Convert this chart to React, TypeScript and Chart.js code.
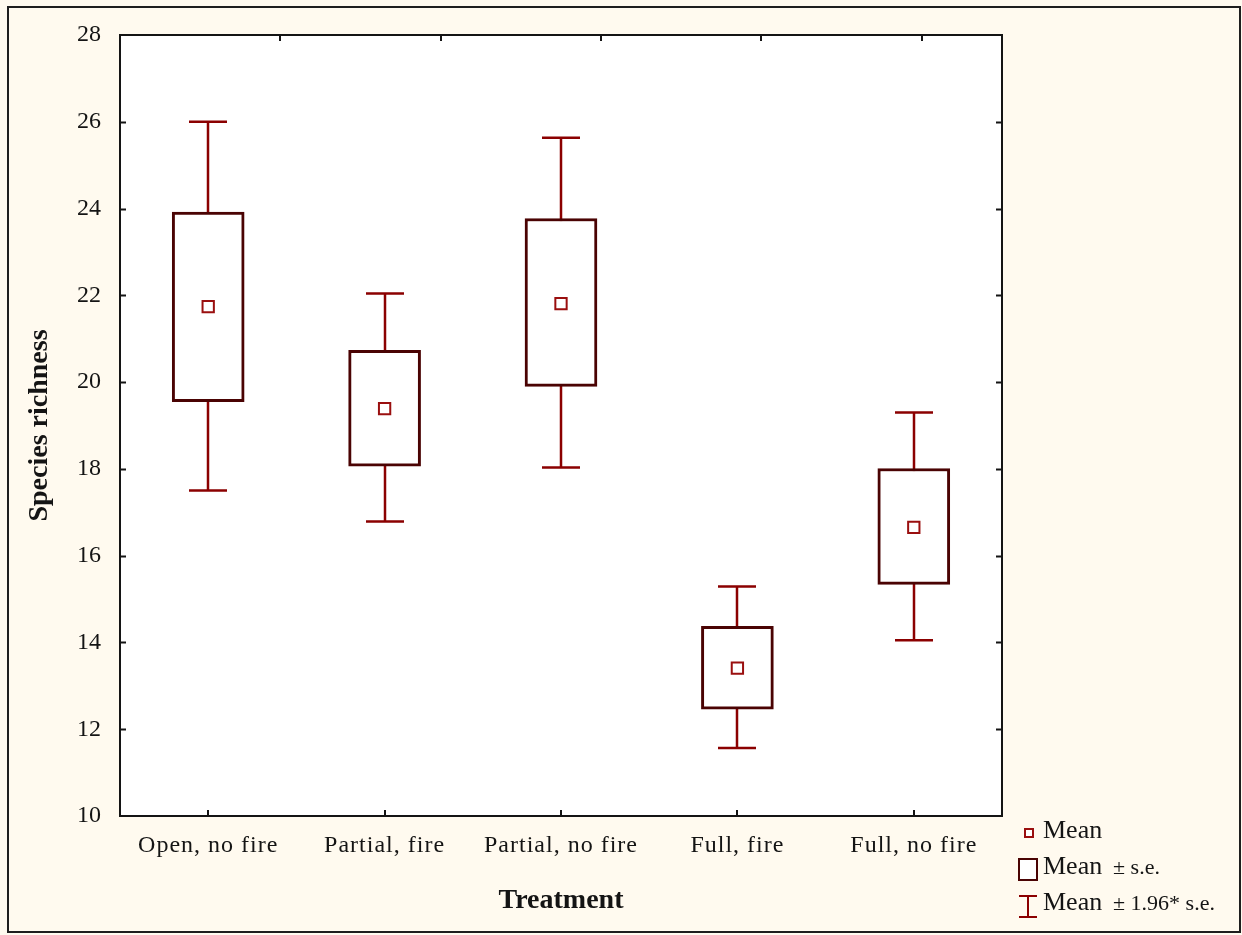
import { useEffect, useRef } from "react";
import { Chart, registerables } from "chart.js";

Chart.register(...registerables);

// Species richness per treatment: mean, ± s.e. box and ± 1.96·s.e. whiskers
const treatments = ["Open, no fire", "Partial, fire", "Partial, no fire", "Full, fire", "Full, no fire"];
const means = [21.74, 19.39, 21.81, 13.41, 16.65];
const seLow = [19.55, 18.06, 19.9, 12.46, 15.34];
const seHigh = [23.92, 20.73, 23.77, 14.37, 18.01];
const ciLow = [17.5, 16.79, 18.03, 11.57, 14.05];
const ciHigh = [26.0, 22.04, 25.63, 15.29, 19.3];

const yMin = 10;
const yMax = 28;
const yStep = 2;

const legendMain = ["Mean", "Mean", "Mean"];
const legendSuffix = ["", "± s.e.", "± 1.96* s.e."];

const CREAM = "#fffaef";
const INK = "#141414";
const WHISKER = "#8b0000";
const BOX = "#4a0303";
const MEAN = "#9a0f0f";
const SERIF = '"Liberation Serif", "Times New Roman", serif';

const decorations = {
  id: "decorations",
  beforeDraw(chart: any) {
    const { ctx, chartArea: a, width, height } = chart;
    ctx.save();
    ctx.fillStyle = CREAM;
    ctx.fillRect(0, 0, width, height);
    ctx.strokeStyle = "#1e1e1e";
    ctx.lineWidth = 2;
    ctx.strokeRect(8, 7, 1232, 925);
    ctx.fillStyle = "#ffffff";
    ctx.fillRect(a.left, a.top, a.right - a.left, a.bottom - a.top);
    ctx.restore();
  },
  beforeDatasetsDraw(chart: any) {
    const { ctx, scales } = chart;
    const x = scales.x;
    const y = scales.y;
    ctx.save();
    ctx.strokeStyle = WHISKER;
    ctx.lineWidth = 2.5;
    treatments.forEach((_, i) => {
      const cx = Math.round(x.getPixelForValue(i));
      const hi = y.getPixelForValue(ciHigh[i]);
      const lo = y.getPixelForValue(ciLow[i]);
      ctx.beginPath();
      ctx.moveTo(cx, hi);
      ctx.lineTo(cx, lo);
      ctx.moveTo(cx - 19, hi);
      ctx.lineTo(cx + 19, hi);
      ctx.moveTo(cx - 19, lo);
      ctx.lineTo(cx + 19, lo);
      ctx.stroke();
    });
    ctx.restore();
  },
  afterDraw(chart: any) {
    const { ctx, chartArea: a, scales } = chart;
    const x = scales.x;
    const y = scales.y;
    ctx.save();
    // plot frame
    ctx.strokeStyle = INK;
    ctx.lineWidth = 2;
    ctx.strokeRect(a.left, a.top, a.right - a.left, a.bottom - a.top);
    // inward tick marks
    ctx.beginPath();
    for (let v = yMin + yStep; v < yMax; v += yStep) {
      const py = Math.round(y.getPixelForValue(v)) + 0.5;
      ctx.moveTo(a.left, py);
      ctx.lineTo(a.left + 6, py);
      ctx.moveTo(a.right, py);
      ctx.lineTo(a.right - 6, py);
    }
    treatments.forEach((_, i) => {
      const px = Math.round(x.getPixelForValue(i));
      ctx.moveTo(px, a.bottom);
      ctx.lineTo(px, a.bottom - 6);
    });
    const w = a.right - a.left;
    for (let i = 1; i <= 5; i++) {
      const px = Math.round(a.left + (w * i) / 5.5);
      ctx.moveTo(px, a.top);
      ctx.lineTo(px, a.top + 6);
    }
    ctx.stroke();

    // legend
    const lx = 1019;
    const tx = 1043;
    const sx = 1113;
    // mean marker
    ctx.strokeStyle = MEAN;
    ctx.lineWidth = 2;
    ctx.fillStyle = "#fff";
    ctx.fillRect(1025, 829, 8, 8);
    ctx.strokeRect(1025, 829, 8, 8);
    // box
    ctx.strokeStyle = BOX;
    ctx.fillRect(lx, 859, 18, 21);
    ctx.strokeRect(lx, 859, 18, 21);
    // whisker
    ctx.strokeStyle = WHISKER;
    ctx.beginPath();
    ctx.moveTo(lx, 896);
    ctx.lineTo(lx + 18, 896);
    ctx.moveTo(lx + 9, 896);
    ctx.lineTo(lx + 9, 917);
    ctx.moveTo(lx, 917);
    ctx.lineTo(lx + 18, 917);
    ctx.stroke();

    const baselines = [838, 874, 910];
    ctx.fillStyle = INK;
    ctx.textBaseline = "alphabetic";
    ctx.textAlign = "left";
    legendMain.forEach((t, i) => {
      ctx.font = `26px ${SERIF}`;
      ctx.fillText(t, tx, baselines[i]);
      if (legendSuffix[i]) {
        ctx.font = `22px ${SERIF}`;
        ctx.fillText(legendSuffix[i], sx, baselines[i]);
      }
    });
    ctx.restore();
  },
};

export default function App() {
  const ref = useRef<HTMLCanvasElement | null>(null);

  useEffect(() => {
    const canvas = ref.current;
    if (!canvas) return;
    const chart = new Chart(canvas, {
      data: {
        labels: treatments,
        datasets: [
          {
            type: "line",
            label: "Mean",
            data: means,
            showLine: false,
            pointStyle: "rect",
            pointRadius: 8,
            pointBorderWidth: 2,
            pointBackgroundColor: "#ffffff",
            pointBorderColor: MEAN,
            order: 1,
          },
          {
            type: "bar",
            label: "Mean ± s.e.",
            data: seLow.map((lo, i) => [lo, seHigh[i]]),
            backgroundColor: "#ffffff",
            borderColor: BOX,
            borderWidth: 3,
            borderSkipped: false,
            barThickness: 72,
            order: 2,
          },
        ],
      } as any,
      options: {
        responsive: false,
        animation: false,
        devicePixelRatio: 1,
        layout: { padding: { left: 0, top: 35, right: 240, bottom: 0 } },
        plugins: {
          legend: { display: false },
          tooltip: { enabled: false },
          title: { display: false },
        },
        scales: {
          x: {
            type: "category",
            offset: true,
            grid: { display: false },
            border: { display: false },
            ticks: {
              color: INK,
              font: { family: SERIF, size: 24 },
              padding: 7,
              maxRotation: 0,
              autoSkip: false,
            },
            title: {
              display: true,
              text: "Treatment",
              color: INK,
              font: { family: SERIF, size: 28, weight: "bold" },
              padding: { top: 0, bottom: 17 },
            },
            afterFit: (s: any) => {
              s.height = 119;
            },
          },
          y: {
            type: "linear",
            min: yMin,
            max: yMax,
            grid: { display: false },
            border: { display: false },
            ticks: {
              stepSize: yStep,
              color: INK,
              font: { family: SERIF, size: 24 },
              padding: 11,
            },
            title: {
              display: true,
              text: "Species richness",
              color: INK,
              font: { family: SERIF, size: 28, weight: "bold" },
              padding: { top: 23, bottom: 0 },
            },
            afterFit: (s: any) => {
              s.width = 120;
            },
          },
        },
      } as any,
      plugins: [decorations],
    });

    // widen letter spacing of the category labels
    const xs: any = chart.scales.x;
    const origDraw = xs.drawLabels.bind(xs);
    xs.drawLabels = (area: any) => {
      const c: any = chart.ctx;
      c.save();
      c.letterSpacing = "1px";
      origDraw(area);
      c.restore();
    };
    chart.draw();

    return () => chart.destroy();
  }, []);

  return (
    <div style={{ position: "fixed", left: 0, top: 0, width: 1242, height: 935 }}>
      <canvas ref={ref} width={1242} height={935} style={{ display: "block" }} />
    </div>
  );
}
